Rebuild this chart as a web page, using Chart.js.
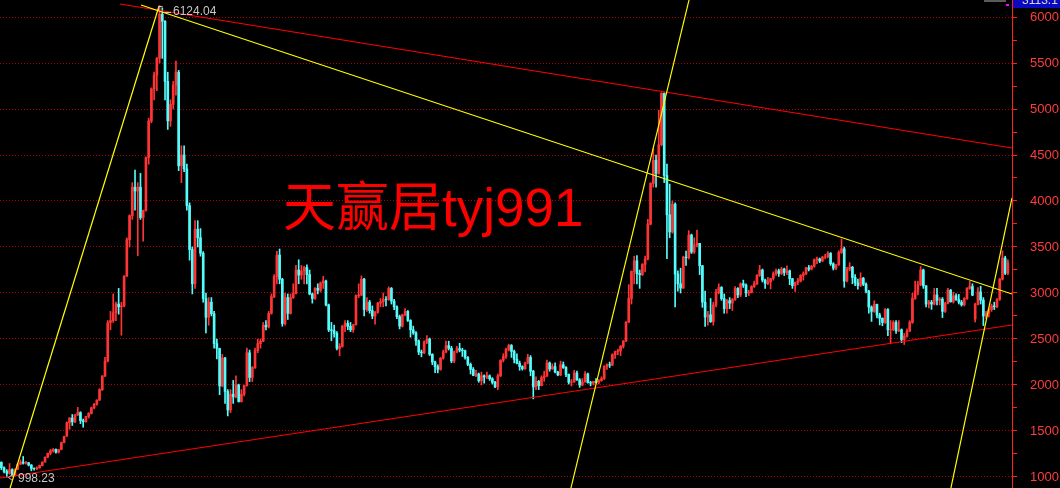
<!DOCTYPE html>
<html>
<head>
<meta charset="utf-8">
<script src="https://cdn.jsdelivr.net/npm/chart.js@4/dist/chart.umd.min.js"></script>
<style>
  html, body { margin: 0; padding: 0; background: #000; }
  #wrap { width: 1060px; height: 488px; }
</style>
</head>
<body>
<div id="wrap"><canvas id="kChart" width="1060" height="488"></canvas></div>
<script>
// half-month candles, May 2005 -> Sep 2020
const opens = [
  // 2005
  1160,1100,1060,1040,1080,1020,1085,1140,1162,1150,1155,1130,1092,1090,1100,1125,
  // 2006
  1163,1215,1258,1285,1299,1270,1300,1375,1445,1590,1641,1600,1672,1700,1612,1600,1658,1690,1752,1790,1837,1950,2099,2260,
  // 2007
  2680,2700,2786,2880,2850,2860,3183,3580,3841,4150,4109,4150,3820,3900,4471,4870,5218,5370,5552,6030,5954,5300,4871,5050,
  // 2008
  5261,5400,4383,4500,4348,3950,3472,3100,3693,3600,3433,2940,2736,2900,2775,2450,2397,1990,2293,1930,1728,1900,1871,2000,
  // 2009
  1820,1900,1990,2350,2082,2190,2373,2450,2477,2650,2632,2780,2959,3180,3412,3150,2667,2950,2779,2950,2995,3250,3195,3240,
  // 2010
  3277,3200,2989,2940,3051,3030,3109,3130,2870,2600,2592,2560,2398,2420,2637,2670,2638,2600,2655,2970,2978,3150,2820,2900,
  // 2011
  2808,2750,2790,2890,2905,2930,2928,3050,2911,2850,2743,2640,2762,2800,2701,2600,2567,2480,2359,2350,2468,2500,2333,2250,
  // 2012
  2199,2170,2292,2360,2428,2400,2262,2360,2396,2380,2373,2300,2225,2170,2103,2120,2047,2100,2086,2100,2068,2030,1980,2100,
  // 2013
  2269,2310,2385,2430,2365,2280,2236,2200,2177,2240,2300,2150,1979,2040,1993,2080,2098,2240,2175,2200,2141,2110,2220,2190,
  // 2014
  2116,2030,2033,2130,2056,2000,2033,2120,2026,2020,2039,2030,2048,2070,2201,2220,2217,2330,2364,2370,2420,2480,2683,2940,
  // 2015
  3235,3350,3210,3200,3310,3370,3748,4190,4441,4300,4612,5170,4277,3850,3664,3965,3206,3100,3053,3390,3383,3630,3445,3520,
  // 2016
  3539,3296,2901,2738,2763,2688,2870,3004,3060,2938,2830,2917,2890,2930,3050,2979,3100,3085,3000,3005,3070,3100,3190,3250,3140,
  // 2017
  3104,3120,3159,3210,3242,3212,3260,3223,3240,3155,3080,3117,3130,3192,3210,3273,3260,3290,3361,3370,3348,3390,3393,3430,3317,3270,
  // 2018
  3307,3440,3480,3130,3259,3280,3169,3110,3082,3160,3095,3020,2847,2800,2876,2760,2725,2680,2821,2600,2603,2680,2588,2600,
  // 2019
  2494,2530,2585,2680,2941,3020,3091,3250,3078,2880,2899,2880,2979,2920,2933,2800,2886,3030,2905,2970,2929,2900,2872,2940,
  // 2020
  3050,3070,2716,2875,3011,2923,2750,2780,2820,2860,2850,2930,3150,3380,3215
];
const highs = [
  1165,1110,1080,1146,1090,1090,1150,1185,1223,1170,1160,1135,1100,1110,1130,1165,
  1220,1260,1300,1310,1305,1300,1380,1445,1600,1645,1680,1680,1757,1710,1630,1660,1700,1760,1800,1840,1960,2100,2300,2700,
  2800,2990,2900,3050,2900,3190,3600,3850,4200,4335,4200,4300,3900,4480,4900,5230,5400,5560,6124.04,6100,5960,5400,5100,5300,
  5522,5420,4600,4600,4400,3980,3500,3786,3786,3700,3450,3000,2950,2950,2800,2500,2400,2333,2300,1950,1950,2050,2100,2010,
  1950,2000,2402,2380,2200,2400,2500,2500,2680,2700,2800,2990,3200,3454,3478,3160,3000,2990,2990,3100,3300,3361,3300,3290,
  3306,3250,3000,3060,3100,3120,3181,3140,2880,2680,2650,2580,2450,2650,2700,2700,2680,2660,2980,3100,3186,3160,2950,2920,
  2860,2800,2900,2940,3000,2960,3067,3060,2930,2860,2760,2770,2830,2810,2710,2640,2580,2490,2380,2480,2536,2510,2340,2260,
  2220,2300,2380,2478,2476,2420,2370,2420,2453,2400,2380,2310,2240,2190,2160,2130,2140,2110,2140,2110,2080,2040,2120,2276,
  2340,2400,2444,2440,2380,2340,2260,2210,2250,2334,2320,2160,2090,2050,2100,2150,2270,2250,2230,2240,2150,2260,2250,2200,
  2120,2060,2160,2150,2070,2070,2146,2130,2040,2040,2070,2060,2090,2210,2230,2250,2340,2370,2390,2430,2480,2690,3091,3240,
  3400,3406,3250,3320,3400,3800,4200,4572,4500,4986,5178,5176,4400,4184,4000,3980,3240,3270,3400,3456,3678,3640,3600,3684,
  3540,3300,3020,2800,2940,2900,3040,3100,3070,2990,2930,2950,2940,3070,3060,3110,3140,3100,3030,3080,3130,3200,3301,3260,3150,
  3170,3160,3230,3260,3260,3280,3270,3295,3250,3160,3120,3160,3200,3230,3280,3300,3300,3370,3390,3380,3400,3420,3450,3440,3330,3310,
  3460,3587,3500,3280,3330,3290,3200,3150,3220,3170,3110,3030,2860,2915,2880,2780,2730,2830,2830,2700,2700,2700,2700,2610,
  2560,2610,2700,2997,3130,3130,3288,3260,3080,2920,2920,3050,3050,2950,2950,2900,3050,3040,3010,2990,2985,2920,2950,3060,
  3127,3100,2890,3058,3074,2950,2800,2840,2880,2900,2940,3160,3458,3400,3360
];
const lows = [
  1080,1043,998.23,1030,1004,1015,1080,1135,1140,1140,1120,1067,1074,1080,1095,1120,
  1160,1210,1240,1270,1260,1260,1295,1370,1440,1520,1560,1590,1670,1580,1541,1595,1640,1685,1740,1780,1830,1940,2090,2250,
  2600,2680,2700,2770,2541,2850,3180,3500,3800,3900,3404,3800,3563,3890,4400,4850,5100,5200,5500,5550,5100,4778,4812,5000,
  5150,4330,4200,4320,3900,3357,2990,3050,3500,3400,2900,2566,2650,2750,2400,2284,1895,1980,1800,1664,1700,1800,1860,1814,
  1814,1880,1990,2037,2037,2180,2350,2400,2470,2600,2620,2770,2950,3100,3100,2639,2650,2712,2770,2940,2990,3100,3150,3100,
  3100,2980,2890,2930,2990,3010,3050,2860,2580,2481,2520,2382,2319,2410,2580,2600,2580,2573,2650,2950,2970,2750,2800,2780,
  2720,2661,2780,2850,2850,2860,2920,2880,2820,2720,2610,2630,2750,2690,2520,2550,2430,2330,2307,2340,2450,2320,2220,2134,
  2132,2160,2280,2350,2380,2242,2242,2350,2360,2310,2280,2210,2120,2100,2090,2030,2001,2020,2070,2050,2010,1970,1949,2090,
  2250,2290,2370,2300,2240,2230,2160,2161,2170,2230,2100,1849,1950,1950,1990,2040,2090,2150,2170,2130,2100,2100,2180,2090,
  2010,1990,2030,2050,1974,1990,2030,2020,1990,2000,2020,2010,2040,2060,2170,2190,2210,2290,2330,2320,2400,2470,2680,2880,
  3100,3100,3050,3190,3230,3360,3740,4150,4150,4290,4600,4200,3373,3600,3650,2850,3020,3000,3050,3300,3370,3430,3430,3500,
  3200,2844,2638,2650,2680,2650,2850,2990,2920,2780,2780,2830,2810,2920,2950,2960,3060,2960,2970,3000,3060,3090,3180,3120,3050,
  3090,3044,3140,3190,3180,3200,3190,3200,3090,3050,3016,3090,3120,3140,3200,3240,3250,3280,3320,3330,3340,3370,3380,3300,3250,3254,
  3300,3430,3062,3120,3240,3100,3080,3041,3070,3080,3000,2780,2691,2790,2730,2653,2644,2670,2536,2449,2590,2560,2580,2460,
  2440,2520,2580,2670,2930,2980,3080,3050,2850,2838,2822,2870,2870,2870,2733,2790,2880,2900,2890,2920,2880,2857,2860,2930,
  3040,2970,2685,2870,2880,2646,2720,2740,2800,2820,2840,2920,3140,3200,3200
];
const closes = [
  1100,1060,1040,1080,1020,1083,1140,1162,1150,1155,1130,1092,1090,1099,1125,1161,
  1215,1258,1285,1299,1270,1298,1375,1440,1590,1641,1600,1672,1700,1612,1600,1658,1690,1752,1790,1837,1950,2099,2260,2675,
  2700,2786,2880,2850,2860,3183,3580,3841,4150,4109,4150,3820,3900,4471,4870,5218,5370,5552,6030,5954,5300,4871,5050,5261,
  5400,4383,4500,4348,3950,3472,3100,3693,3600,3433,2940,2736,2900,2775,2450,2397,1990,2293,1930,1728,1900,1871,2000,1820,
  1900,1990,2350,2082,2190,2373,2450,2477,2650,2632,2780,2959,3180,3412,3150,2667,2950,2779,2950,2995,3250,3195,3240,3277,
  3200,2989,2940,3051,3030,3109,3130,2870,2600,2592,2560,2398,2420,2637,2670,2638,2600,2655,2970,2978,3150,2820,2900,2808,
  2750,2790,2890,2905,2930,2928,3050,2911,2850,2743,2640,2762,2800,2701,2600,2567,2480,2359,2350,2468,2500,2333,2250,2199,
  2170,2292,2360,2428,2400,2262,2360,2396,2380,2373,2300,2225,2170,2103,2120,2047,2100,2086,2100,2068,2030,1980,2100,2269,
  2310,2385,2430,2365,2280,2236,2200,2177,2240,2300,2150,1979,2040,1993,2080,2098,2240,2175,2200,2141,2110,2220,2190,2116,
  2030,2033,2130,2056,2000,2033,2120,2026,2020,2039,2030,2048,2070,2201,2220,2217,2330,2364,2370,2420,2480,2683,2940,3235,
  3350,3210,3200,3310,3370,3748,4190,4441,4300,4612,5170,4277,3850,3664,3965,3206,3100,3053,3390,3383,3630,3445,3520,3539,
  3296,2901,2738,2763,2688,2870,3004,3060,2938,2830,2917,2890,2930,3050,2979,3100,3085,3000,3005,3070,3100,3190,3250,3140,3104,
  3120,3159,3210,3242,3212,3260,3223,3240,3155,3080,3117,3130,3192,3210,3273,3260,3290,3361,3370,3348,3390,3393,3430,3317,3270,3307,
  3440,3480,3130,3259,3280,3169,3110,3082,3160,3095,3020,2847,2800,2876,2760,2725,2680,2821,2600,2603,2680,2588,2600,2494,
  2530,2585,2680,2941,3020,3091,3250,3078,2880,2899,2880,2979,2920,2933,2800,2886,3030,2905,2970,2929,2900,2872,2940,3050,
  3070,2977,2875,3011,2923,2750,2780,2820,2860,2850,2930,3150,3380,3215,3330
];

// axis ticks: labelled every 500, short marks every 250
const yTicks = [1000,1250,1500,1750,2000,2250,2500,2750,3000,3250,3500,3750,4000,4250,4500,4750,5000,5250,5500,5750,6000];
const yLabels = [1000,1500,2000,2500,3000,3500,4000,4500,5000,5500,6000];

// hand-drawn trend lines, [candle index, price] at each end
const yellowLines = [
  [[3.2, 880], [57.8, 6120]],
  [[51.2, 6130], [370.5, 2989]],
  [[208.8, 880], [252.1, 6185]],
  [[348.1, 880], [370.5, 4033]]
];
const redLines = [
  [[43.5, 6141], [370.5, 4576]],
  [[-0.5, 989], [370.5, 2652]]
];

const watermark = "天赢居tyj991";
const cornerValue = "3113.1";

const UP = "#ff3535";
const DOWN = "#54fcfc";
const N = closes.length;

function candleColor(i) {
  return closes[i] >= opens[i] ? UP : DOWN;
}

const bodies = closes.map((c, i) => ({ x: i, y: [opens[i], c] }));
const wicks = closes.map((c, i) => ({ x: i, y: [lows[i], highs[i]] }));

function lineSet(pts, color) {
  return {
    type: "line",
    data: pts.map(p => ({ x: p[0], y: p[1] })),
    borderColor: color,
    borderWidth: 1.2,
    pointRadius: 0,
    fill: false,
    tension: 0,
    order: 0
  };
}

function isLabelled(v) {
  return yLabels.includes(v);
}

const overlay = {
  id: "overlay",
  afterDatasetsDraw(chart) {
    const { ctx, scales } = chart;
    const xs = scales.x, ys = scales.y;
    ctx.save();

    // big red watermark
    ctx.fillStyle = "#ff0000";
    ctx.font = '53px "Liberation Sans", "Noto Sans CJK SC"';
    ctx.textBaseline = "alphabetic";
    ctx.fillText(watermark, 283, 226);

    // high / low marks
    ctx.font = '12px "Liberation Sans"';
    ctx.textBaseline = "middle";
    ctx.fillStyle = "#c8c8c8";
    ctx.strokeStyle = "#c8c8c8";
    ctx.lineWidth = 1;

    const hiVal = Math.max(...highs);
    const hi = highs.indexOf(hiVal);
    const hx = Math.round(xs.getPixelForValue(hi));
    const hy = Math.round(ys.getPixelForValue(hiVal));
    ctx.beginPath();
    ctx.moveTo(hx - 1.5, hy + 0.5); ctx.lineTo(hx + 2.5, hy + 0.5);
    ctx.moveTo(hx - 1.5, hy + 0.5); ctx.lineTo(hx - 1.5, hy + 4.5);
    ctx.moveTo(hx + 4, hy + 6.5); ctx.lineTo(hx + 11, hy + 6.5);
    ctx.stroke();
    ctx.fillText(hiVal.toFixed(2), hx + 13, hy + 6);

    const loVal = Math.min(...lows);
    const lo = lows.indexOf(loVal);
    const lx = Math.round(xs.getPixelForValue(lo));
    const ly = Math.round(ys.getPixelForValue(loVal));
    ctx.beginPath();
    ctx.moveTo(lx + 5.5, ly - 2.5); ctx.lineTo(lx + 1.5, ly + 0.5); ctx.lineTo(lx + 5.5, ly + 3.5);
    ctx.stroke();
    ctx.fillText(loVal.toFixed(2), lx + 11, ly + 2);

    ctx.restore();
  },
  afterDraw(chart) {
    const ctx = chart.ctx;
    const right = chart.chartArea.right;
    ctx.save();
    ctx.fillStyle = "#0a0ac0";
    ctx.fillRect(right + 1, 0, chart.width - right - 1, 8);
    ctx.beginPath();
    ctx.rect(right + 1, 0, chart.width - right - 1, 8);
    ctx.clip();
    ctx.fillStyle = "#d8d8d8";
    ctx.font = '12px "Liberation Sans"';
    ctx.textBaseline = "alphabetic";
    ctx.fillText(cornerValue, right + 10, 4);
    ctx.restore();
    ctx.save();
    ctx.fillStyle = "#ff00ff";
    ctx.fillRect(right - 6, 4, 3, 2);
    ctx.fillStyle = "#5a5a5a";
    ctx.fillRect(right - 28, 0, 22, 2);
    ctx.restore();
  }
};

new Chart(document.getElementById("kChart"), {
  type: "bar",
  data: {
    datasets: [
      ...yellowLines.map(l => lineSet(l, "#ffff00")),
      ...redLines.map(l => lineSet(l, "#ff0000")),
      {
        data: bodies,
        backgroundColor: ctx => candleColor(ctx.dataIndex),
        barThickness: 2,
        borderWidth: 0,
        grouped: false,
        order: 1
      },
      {
        data: wicks,
        backgroundColor: ctx => candleColor(ctx.dataIndex),
        barThickness: 1,
        borderWidth: 0,
        grouped: false,
        order: 2
      }
    ]
  },
  options: {
    responsive: false,
    animation: false,
    events: [],
    layout: { padding: 0 },
    plugins: { legend: { display: false }, tooltip: { enabled: false } },
    scales: {
      x: {
        type: "linear",
        display: false,
        offset: false,
        min: -0.5,
        max: N + 0.5
      },
      y: {
        position: "right",
        min: 880.4,
        max: 6184.8,
        afterBuildTicks: s => { s.ticks = yTicks.map(v => ({ value: v })); },
        afterFit: s => { s.width = 48; s.paddingTop = 0; s.paddingBottom = 0; },
        ticks: {
          autoSkip: false,
          padding: 13,
          color: "#ff3c3c",
          font: { family: "Liberation Sans", size: 13 },
          callback: v => (isLabelled(v) ? String(v) : "")
        },
        grid: {
          color: c => (c.tick && isLabelled(c.tick.value) ? "#b00000" : "rgba(0,0,0,0)"),
          tickColor: "#ff2020",
          tickLength: 5,
          lineWidth: 1
        },
        border: { color: "#ff2020", width: 1, dash: [1, 2] }
      }
    }
  },
  plugins: [overlay]
});
</script>
</body>
</html>
